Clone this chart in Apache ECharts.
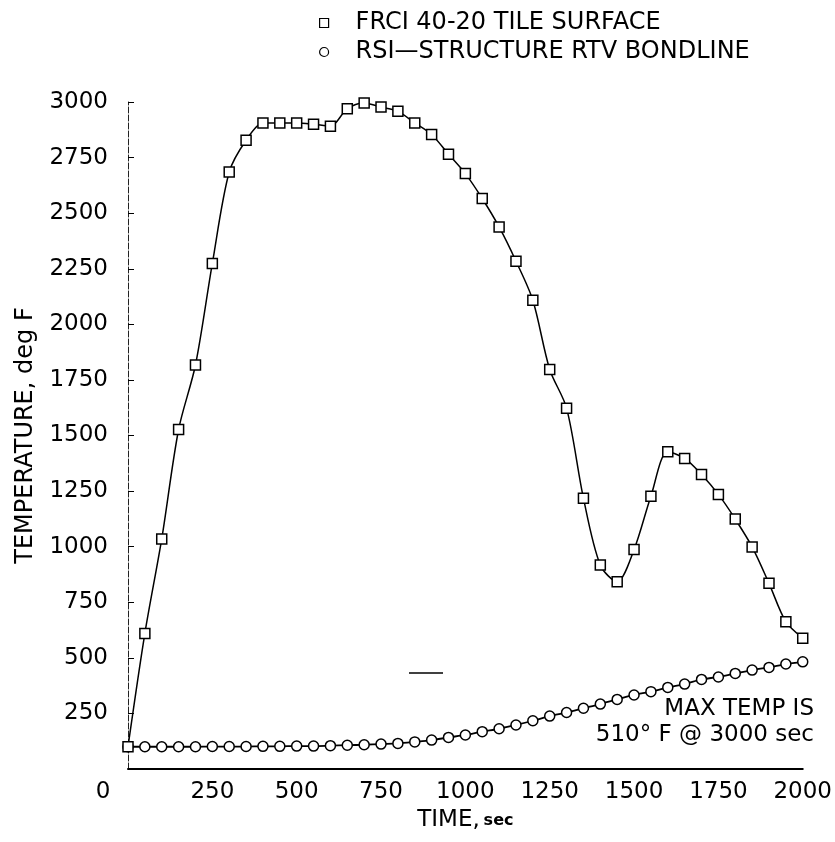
<!DOCTYPE html>
<html>
<head>
<meta charset="utf-8">
<script src="https://cdn.jsdelivr.net/npm/echarts@6/dist/echarts.min.js"></script>
<style>
  html, body { margin: 0; padding: 0; background: #ffffff; }
  #chart { width: 835px; height: 842px; }
</style>
</head>
<body>
<div id="chart"></div>
<script>
// time, sec (one marker every 50 s)
const times = [0, 50, 100, 150, 200, 250, 300, 350, 400, 450, 500, 550, 600, 650, 700, 750, 800, 850, 900, 950,
  1000, 1050, 1100, 1150, 1200, 1250, 1300, 1350, 1400, 1450, 1500, 1550, 1600, 1650, 1700, 1750, 1800, 1850, 1900, 1950, 2000];
// FRCI 40-20 tile surface, deg F
const tileSurface = [100, 610, 1035, 1527, 1817, 2274, 2685, 2828, 2906, 2906, 2906, 2900, 2891, 2970, 2996, 2977, 2958, 2906, 2854, 2765,
  2678, 2566, 2438, 2284, 2108, 1797, 1623, 1218, 917, 842, 987, 1227, 1427, 1397, 1325, 1235, 1124, 999, 835, 662, 588];
// RSI-structure RTV bondline, deg F
const bondline = [100, 100, 100, 100, 100, 101, 101, 101, 102, 102, 103, 103, 105, 107, 109, 112, 115, 122, 130, 142,
  153, 168, 181, 198, 217, 238, 254, 273, 292, 313, 333, 348, 367, 382, 403, 414, 430, 445, 457, 472, 482];
const seriesNames = ["FRCI 40-20 TILE SURFACE", "RSI\u2014STRUCTURE RTV BONDLINE"];

const font = "DejaVu Sans";
const pairs = arr => arr.map((v, i) => [times[i], v]);

const chart = echarts.init(document.getElementById("chart"));
const option = {
  backgroundColor: "#ffffff",
  animation: false,
  textStyle: { fontFamily: font, color: "#000" },
  legend: {
    orient: "vertical",
    left: 314,
    top: 6,
    itemWidth: 9,
    itemHeight: 9,
    itemGap: 5,
    textStyle: { fontSize: 24, fontFamily: font, color: "#000", padding: [0, 0, 0, 22] },
    data: [
      { name: seriesNames[0], icon: "rect", itemStyle: { color: "#fff", borderColor: "#000", borderWidth: 1.2 } },
      { name: seriesNames[1], icon: "circle", itemStyle: { color: "#fff", borderColor: "#000", borderWidth: 1.2 } }
    ]
  },
  grid: { left: 128, right: 27, top: 102, bottom: 73 },
  xAxis: {
    type: "value",
    min: 0,
    max: 2000,
    interval: 250,
    name: "{a|TIME,} {b|sec}",
    nameLocation: "middle",
    nameGap: 40,
    nameTextStyle: {
      rich: {
        a: { fontSize: 23, fontFamily: font, color: "#000" },
        b: { fontSize: 16, fontFamily: font, fontWeight: "bold", color: "#000" }
      }
    },
    axisLine: { lineStyle: { color: "#000", width: 2 } },
    axisTick: { show: false },
    splitLine: { show: false },
    axisLabel: {
      fontSize: 23,
      fontFamily: font,
      color: "#000",
      margin: 12,
      formatter: v => (v === 0 ? "{o|0}" : String(v)),
      rich: { o: { fontSize: 23, fontFamily: font, color: "#000", padding: [0, 50, 0, 0] } }
    }
  },
  yAxis: {
    type: "value",
    min: 0,
    max: 3000,
    interval: 250,
    name: "TEMPERATURE, deg F",
    nameLocation: "middle",
    nameGap: 90,
    nameTextStyle: { fontSize: 24, fontFamily: font, color: "#000" },
    axisLine: { show: true, lineStyle: { color: "#222", width: 1, type: [6, 2] } },
    axisTick: { show: true, inside: true, length: 6, lineStyle: { color: "#000", width: 1 } },
    splitLine: { show: false },
    axisLabel: { fontSize: 23, fontFamily: font, color: "#000", margin: 20, showMinLabel: false, formatter: v => String(v) }
  },
  series: [
    {
      name: seriesNames[0],
      type: "line",
      smooth: 0.3,
      data: pairs(tileSurface),
      symbol: "rect",
      symbolSize: 10,
      lineStyle: { color: "#000", width: 1.5 },
      itemStyle: { color: "#fff", borderColor: "#000", borderWidth: 1.5 },
      z: 3
    },
    {
      name: seriesNames[1],
      type: "line",
      smooth: 0.3,
      data: pairs(bondline),
      symbol: "circle",
      symbolSize: 10,
      lineStyle: { color: "#000", width: 1.8 },
      itemStyle: { color: "#fff", borderColor: "#000", borderWidth: 1.5 },
      z: 2
    }
  ],
  graphic: [
    { type: "text", right: 21, top: 698, style: { text: "MAX TEMP IS", font: "23px " + font, fill: "#000", textAlign: "right" } },
    { type: "text", right: 21, top: 724, style: { text: "510\u00b0 F @ 3000 sec", font: "23px " + font, fill: "#000", textAlign: "right" } },
    { type: "line", shape: { x1: 409, y1: 673, x2: 443, y2: 673 }, style: { stroke: "#000", lineWidth: 1.5 } }
  ]
};
chart.setOption(option);
</script>
</body>
</html>
